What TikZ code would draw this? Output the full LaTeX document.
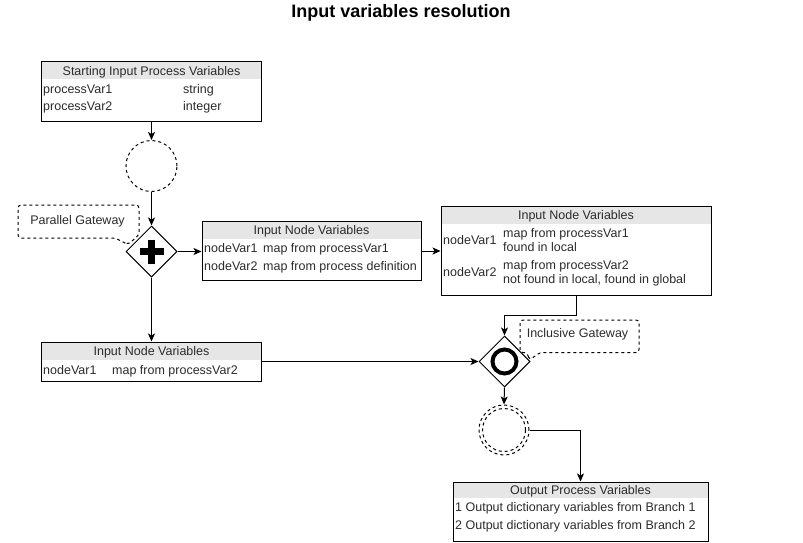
\documentclass[tikz,border=0pt]{standalone}
\usepackage{fontspec}
\setmainfont{Liberation Sans}
\usetikzlibrary{shapes.geometric,arrows.meta}
\definecolor{hdr}{HTML}{E6E6E6}
\definecolor{txtc}{HTML}{2B2B2B}
\begin{document}
\begin{tikzpicture}[x=1pt,y=-1pt,
  every node/.style={font=\fontsize{12.5pt}{14pt}\selectfont, text=txtc},
  tbl/.style={draw=black, line width=1pt, inner sep=0pt, fill=white,
    path picture={\fill[hdr] ([yshift=1pt]path picture bounding box.north west) rectangle ([yshift=-#1pt]path picture bounding box.north east);}},
  cell/.style={anchor=base west, inner sep=0pt},
  head/.style={anchor=base, inner sep=0pt},
  arr/.style={draw=black, line width=1pt, -{Stealth[length=8pt,width=7pt,inset=2pt]}},
  gw/.style={diamond, draw=black, line width=1pt, fill=white, inner sep=0pt, minimum width=51pt, minimum height=51pt},
  evt/.style={circle, draw=black, line width=1pt, dash pattern=on 3pt off 3pt, inner sep=0pt},
  callout/.style={draw=black, line width=1pt, dash pattern=on 3pt off 3pt, rounded corners=3pt},
  ctext/.style={inner sep=0pt, anchor=base}
]
\useasboundingbox (0,0) rectangle (803,543);

% title
\node[anchor=base, inner sep=0pt, text=black, font=\fontsize{18pt}{21pt}\selectfont\bfseries] (title) at (401,18) {Input variables resolution};

% box 1
\node[tbl=17, minimum width=220pt, minimum height=59pt] (b1) at (151.5,91.5) {};
\node[head] (b1h) at (151.5,75.5) {Starting Input Process Variables};
\node[cell] (b1a) at (43,93.2) {processVar1};
\node[cell] (b1b) at (183,93.2) {string};
\node[cell] (b1c) at (43,110.9) {processVar2};
\node[cell] (b1d) at (183,110.9) {integer};

% start event
\node[evt, minimum size=51pt] (sc) at (151.5,166) {};

% parallel gateway
\node[gw] (pg) at (151.5,251.5) {};
\fill[black] ([shift={(-12,-3.3)}]pg.center) rectangle ([shift={(12,3.3)}]pg.center);
\fill[black] ([shift={(-3.3,-12)}]pg.center) rectangle ([shift={(3.3,12)}]pg.center);

% parallel callout
\draw[callout] (128,244.5) -- (115,238) -- (18,238) -- (18,205) -- (139,205) -- (139,235) -- cycle;
\node[ctext] (pgl) at (77.5,224.5) {Parallel Gateway};

% box 2
\node[tbl=17, minimum width=219pt, minimum height=59pt] (b2) at (311.5,251) {};
\node[head] (b2h) at (311.5,234.2) {Input Node Variables};
\node[cell] (b2a) at (204,252.5) {nodeVar1};
\node[cell] (b2b) at (263,252.5) {map from processVar1};
\node[cell] (b2c) at (204,270.5) {nodeVar2};
\node[cell] (b2d) at (263,270.5) {map from process definition};

% box 3
\node[tbl=18, minimum width=270pt, minimum height=89pt] (b3) at (576,250.5) {};
\node[head] (b3h) at (576,219.5) {Input Node Variables};
\node[cell] (b3a) at (443,244.5) {nodeVar1};
\node[cell] (b3b) at (503,237.5) {map from processVar1};
\node[cell] (b3c) at (503,251.5) {found in local};
\node[cell] (b3d) at (443,276.5) {nodeVar2};
\node[cell] (b3e) at (503,269.5) {map from processVar2};
\node[cell] (b3f) at (503,283.5) {not found in local, found in global};

% box 4
\node[tbl=18, minimum width=220pt, minimum height=39pt] (b4) at (151.5,361.5) {};
\node[head] (b4h) at (151.5,355.5) {Input Node Variables};
\node[cell] (b4a) at (43,374.5) {nodeVar1};
\node[cell] (b4b) at (112,374.5) {map from processVar2};

% inclusive gateway
\node[gw] (ig) at (504.5,361.5) {};
\draw[black, line width=4pt] (ig.center) circle[radius=12];

% inclusive callout
\draw[callout] (529.5,360) -- (527,352.5) -- (520,352.5) -- (520,320) -- (639,320) -- (639,352.5) -- (540,352.5) -- cycle;
\node[ctext] (igl) at (577.5,337.5) {Inclusive Gateway};

% end event (double dashed)
\node[evt, minimum size=50pt] (ec) at (504,430) {};
\draw[black, line width=1pt, dash pattern=on 3pt off 3pt] (ec.center) circle[radius=21.5];

% box 5
\node[tbl=16, minimum width=255pt, minimum height=59pt] (b5) at (580.5,511.5) {};
\node[head] (b5h) at (580.5,494.7) {Output Process Variables};
\node[cell] (b5a) at (455,511.7) {1 Output dictionary variables from Branch 1};
\node[cell] (b5b) at (455,529.7) {2 Output dictionary variables from Branch 2};

% connectors
\coordinate (k1) at (576,315);
\draw[arr] (b1.south) -- (sc.north);
\draw[arr] (sc.south) -- (pg.north);
\draw[arr] (pg.east) -- (pg.east -| b2.west);
\draw[arr] (b2.east) -- (b2.east -| b3.west);
\draw[arr] (pg.south) -- (b4.north);
\draw[arr] (b4.east) -- (ig.west);
\draw[arr] (b3.south) -- (k1) -| (ig.north);
\draw[arr] (ig.south) -- (ec.north);
\draw[arr] (ec.east) -| (b5.north);
\end{tikzpicture}
\end{document}
